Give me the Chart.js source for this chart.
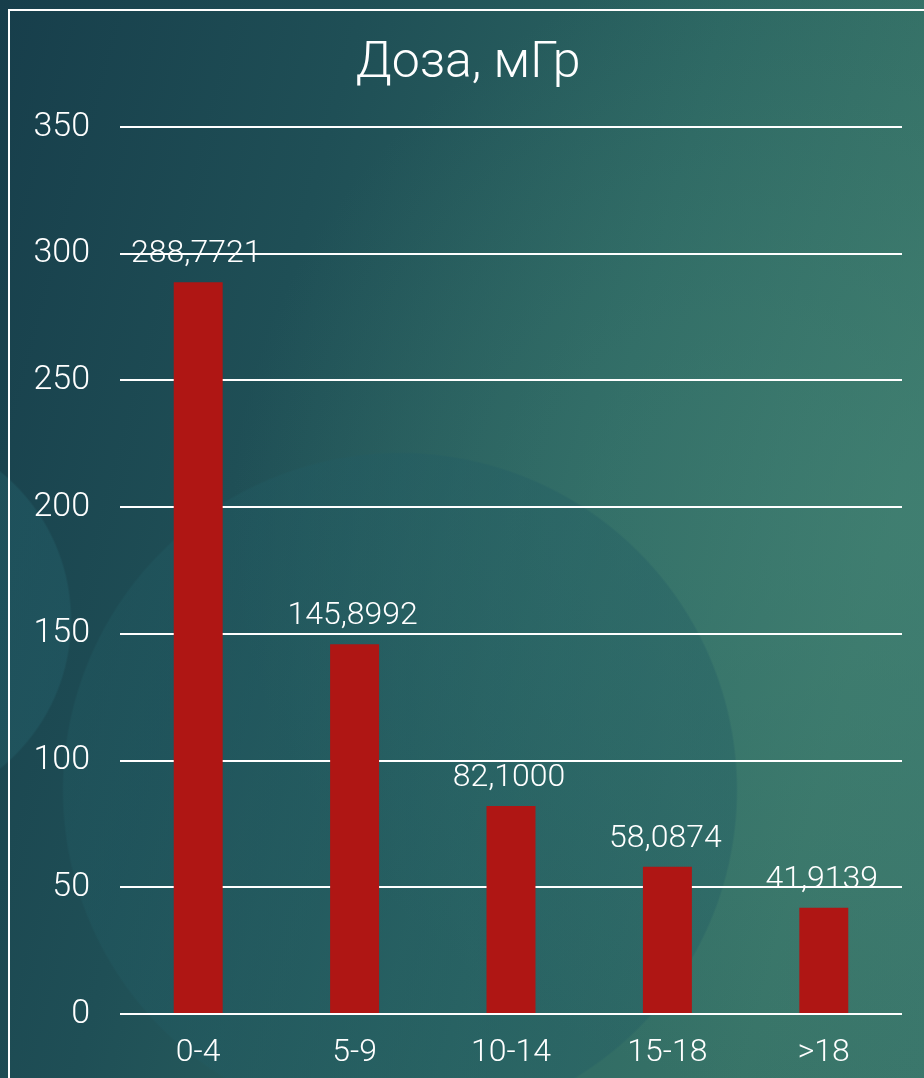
<!DOCTYPE html>
<html>
<head>
<meta charset="utf-8">
<script src="https://cdn.jsdelivr.net/npm/chart.js@4/dist/chart.umd.min.js"></script>
<style>
  html, body { margin: 0; padding: 0; width: 924px; height: 1078px; overflow: hidden; }
  body {
    position: relative;
    background:
      radial-gradient(circle at 400px 790px, rgba(34,92,100,0.45) 0, rgba(34,92,100,0.38) 336px, rgba(34,92,100,0) 338px),
      radial-gradient(circle at -120px 620px, rgba(36,96,106,0.45) 0, rgba(36,96,106,0.45) 190px, rgba(36,96,106,0) 192px),
      radial-gradient(ellipse 700px 600px at 930px 520px, rgba(70,135,120,0.55) 0, rgba(70,135,120,0) 100%),
      linear-gradient(105deg, #173e4b 0%, #1f4f56 30%, #2c6662 60%, #387468 85%, #3a766b 100%);
  }
  #frame {
    position: absolute; left: 8px; top: 9px; width: 1000px; height: 2000px;
    border-left: 2px solid #ffffff; border-top: 2px solid #ffffff;
  }
  #wrap { position: absolute; left: 0; top: 0; width: 924px; height: 1078px; }
</style>
</head>
<body>
<div id="frame"></div>
<div id="wrap"><canvas id="c" width="924" height="1078"></canvas></div>
<script>
const title = "Доза, мГр";
const categories = ["0-4", "5-9", "10-14", "15-18", ">18"];
const doseValues = [288.7721, 145.8992, 82.1000, 58.0874, 41.9139];
const doseLabels = ["288,7721", "145,8992", "82,1000", "58,0874", "41,9139"];
const yTicks = [0, 50, 100, 150, 200, 250, 300, 350];

const FONT = "'Century Gothic', 'Roboto', 'DejaVu Sans', sans-serif";

const valueLabels = {
  id: 'valueLabels',
  afterDatasetsDraw(chart) {
    const ctx = chart.ctx;
    const meta = chart.getDatasetMeta(0);
    ctx.save();
    ctx.fillStyle = '#ffffff';
    ctx.font = '300 32px ' + FONT;
    ctx.textAlign = 'center';
    ctx.textBaseline = 'middle';
    meta.data.forEach((bar, i) => {
      ctx.fillText(doseLabels[i], bar.x - 2, bar.y - 28);
    });
    ctx.restore();
  }
};

new Chart(document.getElementById('c'), {
  type: 'bar',
  data: {
    labels: categories,
    datasets: [{
      data: doseValues,
      backgroundColor: '#af1614',
      borderWidth: 0,
      categoryPercentage: 1,
      barPercentage: 0.313
    }]
  },
  options: {
    responsive: false,
    animation: false,
    layout: { padding: { left: 34, right: 22, top: 0, bottom: 0 } },
    plugins: {
      legend: { display: false },
      tooltip: { enabled: false },
      title: {
        display: true,
        text: title,
        color: '#ffffff',
        font: { family: FONT, size: 50, weight: '300', lineHeight: 1.2 },
        padding: { top: 34, bottom: 33 }
      }
    },
    scales: {
      x: {
        afterFit(scale) { scale.height = 64; },
        grid: { display: false, drawTicks: false },
        border: { display: false },
        ticks: { color: '#ffffff', font: { family: FONT, size: 32, weight: '300' }, padding: 20 }
      },
      y: {
        min: 0, max: 350,
        afterFit(scale) { scale.width = 86; },
        afterBuildTicks(scale) { scale.ticks = yTicks.map(v => ({ value: v })); },
        grid: { color: '#ffffff', lineWidth: 2, drawTicks: false },
        border: { display: false },
        ticks: { color: '#ffffff', font: { family: FONT, size: 34, weight: '300' }, padding: 30, stepSize: 50 }
      }
    }
  },
  plugins: [valueLabels]
});
</script>
</body>
</html>
